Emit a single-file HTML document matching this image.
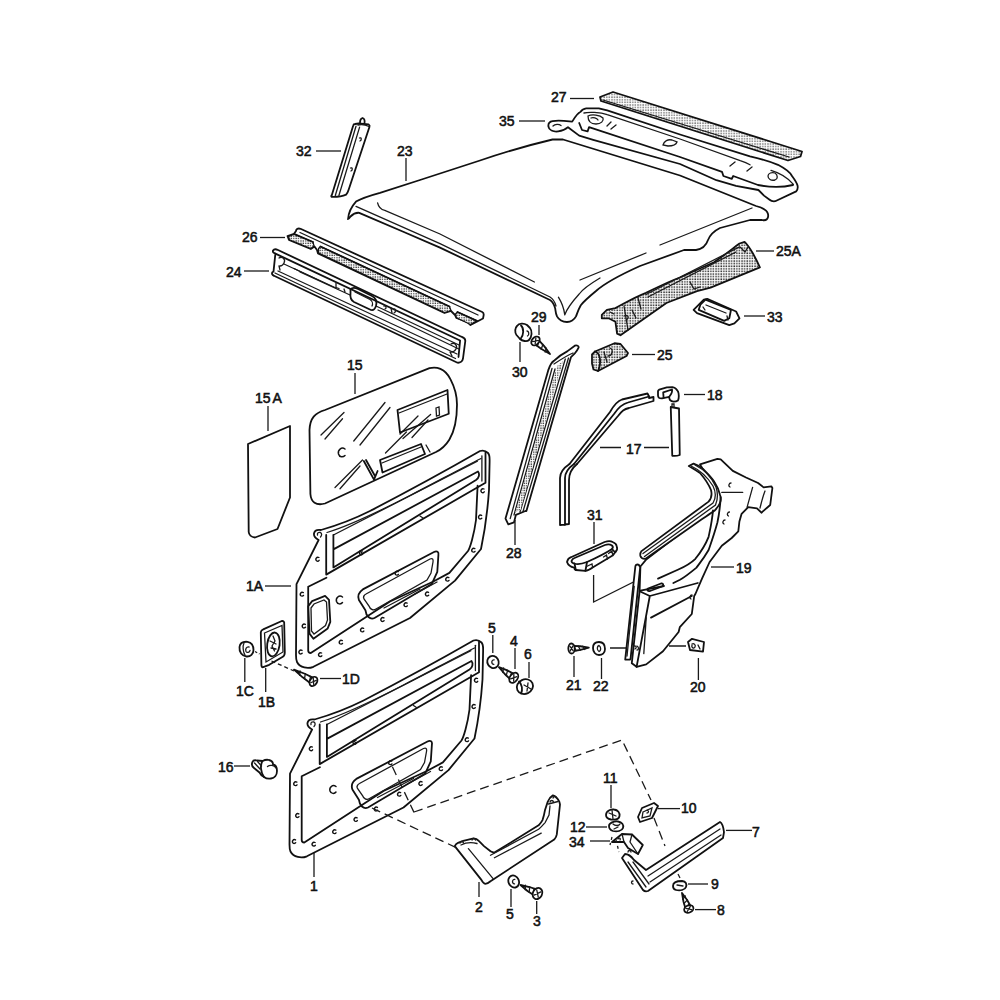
<!DOCTYPE html>
<html><head><meta charset="utf-8">
<style>
html,body{margin:0;padding:0;background:#fff;}
svg{display:block;}
.t{font-family:"Liberation Sans",sans-serif;font-size:14px;fill:#111;stroke:#111;stroke-width:0.55px;}
.o{fill:none;stroke:#111;stroke-width:1.8;stroke-linejoin:round;stroke-linecap:round;}
.w{fill:#fff;stroke:#111;stroke-width:1.8;stroke-linejoin:round;stroke-linecap:round;}
.d{fill:url(#dots);stroke:#111;stroke-width:1.8;stroke-linejoin:round;}
.th{fill:none;stroke:#1a1a1a;stroke-width:1.3;stroke-linecap:round;}
.d2{fill:url(#dots2);stroke:#111;stroke-width:1.2;stroke-linejoin:round;}
.ld{fill:none;stroke:#1a1a1a;stroke-width:1.3;}
</style></head><body>
<svg width="1000" height="1000" viewBox="0 0 1000 1000">
<defs>
<pattern id="dots" width="2.6" height="2.6" patternUnits="userSpaceOnUse">
<rect width="2.6" height="2.6" fill="#fff"/>
<rect x="0.3" y="0.3" width="1.5" height="1.5" fill="#333"/>
</pattern>
<pattern id="dots2" width="2.4" height="2.4" patternUnits="userSpaceOnUse">
<rect width="2.4" height="2.4" fill="#fff"/>
<rect x="0.3" y="0.3" width="1.3" height="1.3" fill="#333"/>
</pattern>
<pattern id="dots3" width="2.6" height="2.6" patternUnits="userSpaceOnUse">
<rect width="2.6" height="2.6" fill="#fff"/>
<rect x="0.3" y="0.3" width="1.3" height="1.3" fill="#555"/>
</pattern>
</defs>
<rect width="1000" height="1000" fill="#fff"/>

<!-- ============ LABELS ============ -->
<g id="labels">
<text class="t" x="551" y="102">27</text><path class="ld" d="M570 98.5H594"/>
<text class="t" x="499" y="126">35</text><path class="ld" d="M519 121H545"/>
<text class="t" x="296" y="156">32</text><path class="ld" d="M316 151H341"/>
<text class="t" x="397" y="156">23</text><path class="ld" d="M406 158V181"/>
<text class="t" x="242" y="242">26</text><path class="ld" d="M260 237.5H285"/>
<text class="t" x="226" y="277">24</text><path class="ld" d="M244 271H269"/>
<text class="t" x="776" y="256">25A</text><path class="ld" d="M756 251H774"/>
<text class="t" x="531" y="322">29</text><path class="ld" d="M539 325V335"/>
<text class="t" x="767" y="322">33</text><path class="ld" d="M744 316H765"/>
<text class="t" x="512" y="377">30</text><path class="ld" d="M520 342V362"/>
<text class="t" x="347" y="370">15</text><path class="ld" d="M355 373V394"/>
<text class="t" x="657" y="360">25</text><path class="ld" d="M632 354.5H655"/>
<text class="t" x="707" y="400">18</text><path class="ld" d="M684 394.5H705"/>
<text class="t" x="626" y="454">17</text><path class="ld" d="M600 447.5H621M644 447.5H669"/>
<text class="t" x="587" y="520">31</text><path class="ld" d="M594 522V544"/>
</g>

<!-- ============ TOP PARTS ============ -->
<g id="top">
<!-- 27 foam strip -->
<path class="d" style="fill:url(#dots3)" d="M600 97 L613 92 L802 151.5 L800.5 156.5 L788 160.5 L601 101 Z"/>
<path class="th" d="M603 100 L789 157"/>

<!-- 35 rear header panel -->
<path class="w" d="M572.2 121.6 C575 117 578 113 580.6 111.8 C582 109.5 584 108.5 586.2 108.3 L598.8 108.3 L607.2 110.4 L680 134.5 L750 156.4 C762 159 771 162 778 164.8 C786 169 790 172 792 176 C795 180 797 183 797.6 185.8 C798 188 797.5 190 796.2 191.4 L775.2 201.2 C773 201.5 771 201 769.6 199.8 L764 195.6 L758.4 190 L736 185.8 L716.4 180.2 L680 164 L593.2 139.8 L579.2 135.6 L568 127.2 C566 129 562 131 558.2 131.4 C553 132 549 130 548.4 126.5 C548 123 550 121.5 552.6 121.1 C556 120.5 560 120.5 563.8 120.9 Z"/>
<path class="th" d="M553 126 C555 124 559 124 561 125.5"/>
<path class="th" d="M584 113 C588 112 600 112 607.2 114.6 L680 139 L740.2 160.6 C745 162 748 163.5 750 164.8"/>
<path class="o" d="M579.2 123 L582 130 L587.6 131.4 L589 127.2 L680 157 L722 171.8 L723.4 176 L731.8 178.8 L733.2 176 L758 185 C768 187 780 188 793 185"/>
<path class="th" d="M588 116 C592 114 600 115 603 118 C604 121 601 124 596 124 C591 124 588 121 588 116 Z M591 118 C593 117 597 118 598 120"/>
<path class="th" d="M663 145 C664 141 668 139 672 140 L677 142 C676 145 672 146 668 146 Z"/>
<path class="th" d="M768 176 C768 173 772 172 775 173 C778 175 778 179 775 180 C771 181 768 179 768 176 Z"/>
<path class="th" d="M771 170.4 C780 173 788 178 793.4 184.4 M607 126 L611 122 M611 129 L616 125 M730 166 L735 162 M747 171 L752 167"/>

<!-- 23 roof -->
<path class="w" d="M348 219.2 C348.5 212 352 206 356 201.6 C362 198 370 195.5 380 192.8 L420 180 L480 160.5 C505 152 525 146 552.5 139.5 L563 139.5 L680 175.5 L756 206 C762 207.5 767 210 768 214 C769 219 766 221 762 220 L750 220 L720 228 C714 231 710 235 708 240 C706 246 703 249 696 250 L684 250 L640 266 C620 275 605 283 596 291 C590 296 584 301 580.8 305.2 C578 310 577 314 576 316.4 C574 320 572 322 567 322 C563 322 559 320 557 316.4 C555.5 313 555.5 310 555.2 308.4 C554 304 553 302 550 300 L440 247.6 L405 232.5 L359.2 212.8 C356 212.5 353 214 350.5 216.5 C349.5 218 348.5 219.5 348 219.2 Z"/>
<path class="th" d="M356 206.4 L440 243.6 L550 297 C553 299 555 302 556 306"/>
<path class="th" d="M377.6 202.8 C378.5 207 381 209.5 384.8 210.4 L440 234 L534.4 282"/>
<path class="th" d="M558.4 297.2 C562 303 564 309 564.8 314.8 M600 278 C590 284 582 290 579.2 294 C572 302 567 308 564.8 314.8"/>
<path class="th" d="M660 245 L752 208"/>
<path class="th" d="M580 280 L646 253"/>

<!-- 32 strip -->
<path class="w" d="M353.3 125.3 C353.5 124.5 354 124 355.1 124 L358.7 123.5 L368.6 124.4 C369.5 125 369.8 126 369.5 126.7 L348.8 189.2 C348 192 347 193.5 346.1 194.6 C342 196.5 336 197 331.7 196.9 C331 196.5 331.2 195.5 331.7 195.5 Z"/>
<path class="th" d="M356 126.2 L335.3 195.5 M359.6 127.1 L338.9 195.5 M358 125 C362 124 366 125 369 126.5"/>
<path class="o" d="M360 122.5 C360 120 361 118.5 362.5 118 C364 118.5 365 120 364.5 123"/>
<path class="th" d="M359.5 138 C361.5 137 362 140 360 141 M350.5 168 C352.5 167 353 170 351 171"/>

<!-- 26 channel with foam -->
<path class="w" d="M296 231 C296 229 298 228 300.5 228.8 L482.2 312 C483.5 312.6 484 314 483.5 316 L483 318.5 L470.5 325 L468 322.5 L456.5 318 L455 315 L451 311 L444.5 313 L318 253.5 L317 250 L314.5 246.5 L310.8 249 L289 240 L287.5 236 L294 233.8 Z"/>
<path class="th" d="M300 232.5 L478 315"/>
<path class="d2" d="M288.5 236.5 L294.5 234.2 L313 242 L314 246 L310.8 248.5 L289.5 239.8 Z"/>
<path class="d2" d="M318.5 248.5 L320.5 246.5 L449.5 306.5 L451 310.5 L444.5 312.5 L318.6 253 Z"/>
<path class="d2" d="M455.5 314 L457.5 312 L477 320.5 L470.5 324.5 L456.5 317.8 Z"/>
<path class="o" d="M320.5 246.5 L449.5 306.5 M457.5 312 L477 321 M294.5 234.2 L313 242"/>

<!-- 24 channel -->
<path class="w" d="M273 250.5 C274 249 276 249 278 250 L461.4 336.7 C463.5 337.5 465.5 339 465.3 341 L463 358.5 C462.5 361.5 460 363 457.5 362.7 L274 275.8 C272 275 271.5 273.5 272.5 272 L273.5 271.6 L275.4 253.6 C273.5 253 272.5 252 273 250.5 Z"/>
<path class="o" d="M275.4 253.6 L460.1 340.5 L458.5 357"/>
<path class="th" d="M284 264 L336 288 M376 306 L459 345 M278 271 L457 354 M275 273 L455.5 358.5"/>
<path class="th" d="M294 268.5 L336 288.5 M300 272 L350 295 M378 310 L458.8 349"/>
<path class="th" d="M279 258 C282 256 286 259 284 263 C283 265 282 266 280 266 M279 266 L280 270"/>
<path class="th" d="M451 344 C454 342 458 345 456 349 C455 351 453 352 451 352 M450 352 L452 356"/>
<path class="o" d="M350.5 289.5 C352 287.5 355 287.5 358 289 L372 296 C376 298 377 302 376 306 C375 309 373 310.5 371 310 L354 302 C351 300.5 350 297 350.5 293 Z"/>
<path class="th" d="M355 292 L370 299.5 C372.5 301 373 304 372 306 M336 283 L336 287.5 L339 288.5 M344 289 L345 292"/>
<path class="th" d="M384 306 C386 305.5 387 308 385 309 M391 308 L392 313 M394 309 C396 309 396 312 394 313"/>

<!-- 29 screw / 30 grommet -->
<path class="w" d="M517 326 C519 323 524 323 527 325 L530 328 C532.5 331 532 337 529 340 C527 342 522 341 520 339 L516.5 335 C514.5 332 515 328 517 326 Z"/>
<path class="o" d="M521 325.5 C524 328 524 335 520.5 339"/>
<path class="th" d="M527 331 C529 331 529.5 335 527.5 336"/>

<!-- 25A foam trim -->
<path class="d" d="M601.8 314.9 L606.9 309.8 L615.4 308.1 C625 303 635 297 646 292.8 C660 286 670 281 680 277.5 C692 272 703 267 714 262.2 C722 257 732 249 739.5 243.5 L744.6 241.8 C748 245 751 250 753.1 253.7 C756 259 758 263 759.9 267.3 L710.6 287.7 L697 291.1 L666.4 303 L620.5 335.3 L617.1 333.6 L615.4 321.7 L608.6 318.3 L601.8 318.3 Z"/>
<path class="th" d="M646 294.5 L739.5 246.9 M648 297 L736 252 M690 282 L694 289 L700 287 M638 298 L641 309 M624 306 L628 330 M610 312 L614 314 M624 316 C628 314 630 318 626 320 M632 310 L636 318 M740 247 L745 252 L748 247"/>
<path class="w" d="M693.6 309.8 L703.8 299.6 L707.2 298.8 L736.1 311.5 L739.5 318.3 L734.4 323.4 L729.3 325.1 L697 313.2 Z"/>
<path class="o" d="M700.4 304.7 L705.5 299.6 L731 309.8 L729.3 318.3 L724.2 320.9 L698.7 309.8 Z"/>
<path class="th" d="M706 305 L726 313 M703 307 L705 310 M727 316 L728 320"/>

<!-- 25 block -->
<path class="d" d="M592 354.5 L595 351.5 L614.5 343.25 L620.5 344 L628 353 L626.5 356 L598 371 L593.5 369.5 L592 363.5 Z"/>
<path class="o" d="M595 351.5 C600 353 602 362 598 371"/>
<path class="th" d="M604 352 L607 362 M610 348 C614 350 612 356 608 356"/>

<!-- 28 A-pillar trim -->
<path class="w" d="M548.2 370.4 C550 365 552 362 553.9 360.9 C558 357 562 354 567.2 351.4 L574.8 345.7 C577 345 579 346 578.6 347.6 C577.5 350 576 352 574.8 353.3 L571 357.1 L526.4 511 L525.4 511 L515.9 514.8 L514 522.4 L508.3 524.3 L505.5 518.6 Z"/>
<path class="th" d="M552 368.5 L510.2 518.6 M555 369 L514 515 M565.3 359 L520 512 M568.5 358 L523 511.5 M554 364 C560 360 566 356 573 353"/>
<path class="d2" style="stroke:none" d="M557 366 L563 361 L520.5 510 L515.5 512 Z"/>

</g>

<!-- 18 / 17 -->
<g id="mid-right">
<path class="w" d="M658 391.2 C658.5 390 659 389.8 659.2 389.6 L666.8 387.4 L672.4 387.2 C674 387.5 675.2 388 676 388.8 C677 389.8 677.8 390.8 678 391.6 C678.8 393 678.8 394.5 678.8 396 C678.8 398 678.5 399.5 678 400.4 C676.5 401.5 675 401.6 673.6 401.6 C672 401.4 670.8 400.8 670 400 C669.4 399 669.2 398 669.2 396.8 L662 398.4 C660.5 398.5 659.5 398.2 658.8 397.6 C658.2 396.8 658 396 658 395.2 Z"/>
<path class="o" d="M663.2 392.4 L663.6 397.6 M663.2 392.4 L672 389.5 C672.5 391.5 671.5 394 669.2 396.8"/>
<path class="w" d="M670.75 407 L679 408.5 L679.75 455 C677 456 674 456 672.25 455.75 Z"/>
<path class="th" d="M672 407 L672 404 L674 404 L674 407"/>
<path class="o" d="M569.5 464 L610 412 C614 405 617 401 622 399.5 L647.5 393.5 L649 396.5"/>
<path class="o" d="M574 464 L614 414 C618 408 622 404 628 402.5 L649 396.5"/>
<path class="o" d="M577 464 L618 416 C622 411 624 409 629 408 L653.5 401 L653.5 397 L649 398"/>
<path class="o" d="M560 525 L560 478 C560 473 562 469 569.5 464 M565 525 L565 478 C565 473 567 469 574 464 M569 524 L569 480 C569 474 571 469 577 464 M560 525 L569 524"/>
</g>

<!-- ============ LOWER LABELS ============ -->
<g id="labels2">
<text class="t" x="255" y="403">15<tspan dx="2">A</tspan></text><path class="ld" d="M268 406V431"/>
<text class="t" x="506" y="558">28</text><path class="ld" d="M515 520V545"/>
<text class="t" x="736" y="573">19</text><path class="ld" d="M711 567H734"/>
<text class="t" x="246" y="591">1A</text><path class="ld" d="M265 586H291"/>
<text class="t" x="488" y="633">5</text><path class="ld" d="M492.8 635V653"/>
<text class="t" x="510" y="646">4</text><path class="ld" d="M515 648V669"/>
<text class="t" x="524" y="659">6</text><path class="ld" d="M529 662V678"/>
<text class="t" x="566" y="690">21</text><path class="ld" d="M574 656V677"/>
<text class="t" x="593" y="691">22</text><path class="ld" d="M601.5 658V679 M610 648H631"/>
<text class="t" x="690" y="692">20</text><path class="ld" d="M698.4 658V680 M669 646H686"/>
<text class="t" x="236" y="696">1C</text><path class="ld" d="M244.8 658V682"/>
<text class="t" x="258" y="707">1B</text><path class="ld" d="M265.7 668V692"/>
<text class="t" x="342" y="684">1D</text><path class="ld" d="M320 678.5H341"/>
<text class="t" x="218" y="772">16</text><path class="ld" d="M234 766H250"/>
<text class="t" x="603" y="783">11</text><path class="ld" d="M611 785V808"/>
<text class="t" x="681" y="813">10</text><path class="ld" d="M658 808.6H680"/>
<text class="t" x="752" y="837">7</text><path class="ld" d="M726 830.4H752"/>
<text class="t" x="570" y="832">12</text><path class="ld" d="M586 827H607"/>
<text class="t" x="569" y="847">34</text><path class="ld" d="M590 841H610"/>
<text class="t" x="310" y="891">1</text><path class="ld" d="M314 851V877"/>
<text class="t" x="475" y="912">2</text><path class="ld" d="M479 882V897"/>
<text class="t" x="506" y="919">5</text><path class="ld" d="M511 889V907"/>
<text class="t" x="533" y="926">3</text><path class="ld" d="M536.7 901V914"/>
<text class="t" x="711" y="889">9</text><path class="ld" d="M688 884H708"/>
<text class="t" x="717" y="915">8</text><path class="ld" d="M695 909.6H716"/>
</g>

<!-- 15A glass -->
<path class="o" d="M248 444 L290 426 L290 497.5 L277.5 529 L255 537.5 C251 537 249 535 248.7 532 Z"/>
<!-- 15 glass -->
<path class="w" d="M325 410 L429.5 368.2 C436 366.5 445 368 450.4 379.2 C455 388 457 396 457 404.5 C457 418 454 432 449.3 439.7 C446 445 442 449 436 452 L325 503.5 C316 506 311 502 310.4 494 L309.5 430 C310 418 315 413 325 410 Z"/>
<path class="th" d="M321 435 L344 412.5 M325 439 L342.5 418.75 M353.75 441 L385 402.5 M360 445 L390 407.5 M335 487.5 L362.5 460 M340 488.75 L360 466 M385.5 453 L406.4 432 M403 438.6 L430.6 414.4 M412 437.5 L428 420 M400 434 L418 416"/>
<path class="o" d="M397.5 410 L447.5 390 L448.75 413.75 L400 432.5 Z"/>
<path class="th" d="M399 413 L447 394 M436 408 L439 407 L439.5 415 L436.5 416 Z"/>
<path class="o" d="M380 460 L421 444 L425 454 L382.5 472.5 Z"/>
<path class="th" d="M382 463 L421 447"/>
<path class="o" d="M363.8 461 L374 479.6 L377.6 471 M366 460 L375 476"/>
<path class="th" d="M426 445 L430 452"/>
<path class="o" style="stroke-width:1.5" d="M345 449 C341.5 446.5 337.5 450 338.5 454 C339.5 457.5 343 457.5 345 455.5"/>

<!-- Door panel 1A -->
<g id="door">
<path class="w" d="M318.6 540 C316 538.5 313.5 536.5 314 533.5 C314.5 530.5 317.5 529.5 321 530 C335 526 350 521 370 511 C395 498 440 474 480 451 C483 450 486 451 488 453 C490 455 489.6 458 489.6 462 L489 490 C488 505 486 525 481 549 L455 580.6 L410 618 L313.4 666.8 C308 669 300 668 297 662 C296 660 296 658 296 655 L296.5 584.2 L318.6 540 Z"/>
<path class="th" d="M317.5 535 C317 533 318.5 532 320.5 532.5 C322 533.5 322 535.5 320.5 537"/>
<path class="th" d="M327 532.5 C350 525.5 380 511 410 495.5 C440 480 460 469 481 458.5"/>
<path class="th" d="M333.4 535 L477.4 461.2"/>
<path class="o" d="M326.2 535 L326.2 574.6 L485.5 482.8 L485.5 452.2"/>
<path class="th" d="M481.9 455.8 L481.9 481"/>
<path class="o" d="M333.4 535 L333.4 567.4 L476 480 C479 478 480 474 478 471.5 L333.4 549.4"/>
<path class="th" d="M360 551 L362 553 M420 516 L423 518"/>
<path class="o" d="M308.2 586.8 L326.4 577.7 M477.6 485.6 L476 520 C474 535 470 548 468 551 L449.4 572.9 L432.9 581.7 L390 601.5 L310.8 653 C308.5 653 308.2 651 308.2 650.5 L308.2 586.8"/>
<path class="o" d="M362.8 589.4 L434 552 C437 550.5 439 552 438.4 555 L437.3 571.8 L431.8 583.9 L374.5 618 C370 620 366 616 365.4 610.2 L358.9 600 C357.5 596 359 592 362.8 589.4 Z"/>
<path class="th" d="M366 594 L430 559 C432.5 558 433.5 559 433 562 L431 573 L427 580 L376 609 C373 611 370 609 369 606 L364 599 C363 597 364 595 366 594 Z"/>
<path class="th" d="M415 594 L437 582 M384 608 L420 589"/>
<path class="o" style="stroke-width:1.5" d="M342.5 597 C339 594.5 335.5 598 336.5 601.5 C337.5 604.5 341 604.5 342.5 602.5"/>
<path style="fill:none;stroke:#111;stroke-width:1.4;stroke-linecap:round" d="M318.9 557.5 C316.7 556.3 314.9 559.1 316.5 560.7 C317.3 561.3 318.5 561.1 319.1 560.3 M303.3 592.6 C301.1 591.4 299.3 594.2 300.9 595.8 C301.7 596.4 302.9 596.2 303.5 595.4 M305.3 624.4 C303.1 623.2 301.3 626.0 302.9 627.6 C303.7 628.2 304.9 628.0 305.5 627.2 M302.0 650.4 C299.8 649.2 298.0 652.0 299.6 653.6 C300.4 654.2 301.6 654.0 302.2 653.2 M321.6 653.0 C319.4 651.8 317.6 654.6 319.2 656.2 C320.0 656.8 321.2 656.6 321.8 655.8 M342.3 640.6 C340.1 639.4 338.3 642.2 339.9 643.8 C340.7 644.4 341.9 644.2 342.5 643.4 M363.6 628.3 C361.4 627.1 359.6 629.9 361.2 631.5 C362.0 632.1 363.2 631.9 363.8 631.1 M383.9 617.9 C381.7 616.7 379.9 619.5 381.5 621.1 C382.3 621.7 383.5 621.5 384.1 620.7 M407.1 603.1 C404.9 601.9 403.1 604.7 404.7 606.3 C405.5 606.9 406.7 606.7 407.3 605.9 M362.5 551.0 C360.3 549.8 358.5 552.6 360.1 554.2 C360.9 554.8 362.1 554.6 362.7 553.8 M398.2 571.6 C396.0 570.4 394.2 573.2 395.8 574.8 C396.6 575.4 397.8 575.2 398.4 574.4 M484.0 489.0 C481.8 487.8 480.0 490.6 481.6 492.2 C482.4 492.8 483.6 492.6 484.2 491.8 M481.6 515.4 C479.4 514.2 477.6 517.0 479.2 518.6 C480.0 519.2 481.2 519.0 481.8 518.2 M474.8 548.6 C472.6 547.4 470.8 550.2 472.4 551.8 C473.2 552.4 474.4 552.2 475.0 551.4 M448.8 577.6 C446.6 576.4 444.8 579.2 446.4 580.8 C447.2 581.4 448.4 581.2 449.0 580.4 M428.5 592.4 C426.3 591.2 424.5 594.0 426.1 595.6 C426.9 596.2 428.1 596.0 428.7 595.2"/>
</g>
<use href="#door" transform="translate(-6.5,189.5)"/>
<path class="o" d="M308.2 606.3 L312.1 601.1 L325.1 595.9 L329 599.8 L330.3 621.9 L327.7 628.4 L313.4 638.8 L309.5 633.6 Z"/>
<path class="th" d="M311 608 L314 604 L324 600 L326.5 602 L327.5 620 L325.5 625.5 L314 634 L311.5 631 Z"/>


<!-- 1C / 1B / 1D -->
<path class="w" d="M239.5 647 C240 642.5 244 641.5 247.5 641.8 C251.5 642.5 253.5 646 253.5 650 C253.5 654 250.5 656.8 246.5 656.5 C242 656 239 652 239.5 647 Z"/>
<path class="th" d="M249 647 C246.5 646.5 245 649 246 651.5 C247 653 249.5 652.5 250 650.5 M244 643 C242.5 646 243 652 245 655"/>
<path class="w" d="M260.8 632.4 C261 630.5 262 629.8 263.2 629.4 L281.8 621 C283.5 620.8 284.5 622 284.2 623.4 L284.8 652.2 C284.8 654.5 284 656.2 282.4 657 L269.2 664.8 L263.2 667.2 C262 667.5 261.5 666.5 261.4 665.4 Z"/>
<path class="th" d="M264.5 633 L282 625.5 L283 652 L266 662 Z"/>
<ellipse class="o" cx="273.4" cy="644.4" rx="6.2" ry="12" transform="rotate(8 273.4 644.4)"/>
<path class="th" d="M273 636 L275 641 L272 646 L274.5 651 M270 641 L276 644 M271 648 L276 649"/>
<path class="ld" d="M255 651.5 L259.5 654" stroke-dasharray="2.5 2"/>
<path class="ld" d="M271.5 661 L294 671" stroke-dasharray="4 3"/>

<!-- 16 clip -->
<path class="w" d="M252.5 762 C253 760.5 255 760 257 760.5 L262.5 761 C264.5 760 267 759.5 269 760 C271.5 760.5 273 762.5 273 764.5 C275.5 765 277 767.5 277 771 C277 775 274.5 778 271 778.5 C268.5 779 266 778.5 264 777 C262 776 260.5 774.5 259.5 772.5 L254 768 C252 766.5 251.5 764 252.5 762 Z"/>
<path class="o" d="M262.5 761 C260 765 260.5 772 264 777"/>
<path class="th" d="M267.5 766.5 C270 764.5 274 765 276 768 M254.5 763 L260 769 M257.5 761.5 L261.5 766"/>

<!-- 5, 4, 6 -->
<ellipse class="w" cx="524.9" cy="686.6" rx="8.3" ry="7.2" transform="rotate(-25 524.9 686.6)"/>
<path class="o" d="M519 681.5 C522 684 523 690 521 693.5"/>
<path class="th" d="M524 685 L531 689 M528 683 L527 691"/>

<!-- 21, 22 -->
<path class="w" d="M593 648 C593 643 596 642 599 642 C603 642 605 645 605 649 C605 653 602 655 599 655 C595.5 655 593 652 593 648 Z"/>
<path class="th" d="M599 645.5 C597 646 596.5 650 599 651.5 C601 651 601.5 647 599 645.5 Z"/>

<!-- 20 clip -->
<path class="w" d="M688 642 L692 638.8 L704 642 L703 651.6 L690 650 Z"/>
<path class="th" d="M692 644 C694 643 696 645 695 647 C694 649 691 648 692 645 M698 645 L700 649"/>

<!-- 31 handle -->
<path class="w" d="M567 562 C567.5 559.5 569 558 571 557.2 L604.6 542 C607.5 541 611 541 612.6 542 C615 543 616.5 544.5 616.6 546 C617.5 548 617.2 550 615.8 551.5 L612.6 555.6 L592.6 567.6 C590 569.5 587.5 570.8 585.4 570.8 L575.8 570 C574.5 569.5 574.2 568.5 574.2 567.6 C571 567 568 565 567 562 Z"/>
<path class="o" d="M571.5 561 C572 559.5 573 558.5 574.5 558 L605 545 C607.5 544.2 610.5 544.5 612 545.5 C613 546.5 613 548 612 549 C606 553 596 558 587 562 C582 564 577 564.5 574 563.5 C572.5 563 571.5 562 571.5 561 Z"/>
<path class="o" d="M574.5 563.5 C575 566 575.5 568 575.8 570 M587 562 C586.5 565 586 568 585.4 570.8 M612 549 C614 551 615 553 615.8 551.5"/>
<path class="th" d="M586.5 566.5 L592 564 L592.6 567.6 M603.5 557 L606.5 555 L607.5 559 M608.5 553.5 L612 551 L612.6 555"/>
<path class="ld" d="M593.6 575V602 L651 573.2 L652.2 584"/>

<!-- 19 rear quarter trim -->
<g id="p19">
<path class="w" d="M700 464.4 L717.4 458.8 L720.7 459.4 L732.8 470.9 L746 477.5 L758.1 483 L763.6 487.4 L771.3 486.3 L772.4 488 L770.2 505 L761.4 512.7 L757 508.3 L748.2 507.2 L741.6 513.8 L739.4 521.5 L738.3 531.4 L731.7 538 L721.8 545.7 L709.6 562 L702 578.6 L695.4 594 L694.2 596 L691.8 614 L679.8 627.2 L678.6 632 L663 651.2 L646.2 664.4 L636.6 666.8 L631.8 663.2 L639.6 591.2 L640.4 566.5 L645.9 559.9 L717.4 504.9 C719 500 719 497 718 494 Z"/>
<path class="w" d="M688.8 466 L693.6 463.6 C698 465 701 467 703.2 469.2 C708 474 712 478 714.4 482 C717 486 719 490 720 494.8 C721 498 721 501 720 502.8 C719 506 717 508 714.4 510.8 C710 514 705 517 700 520.4 L645.6 558.8 C643 559 641 558 640.4 556 C640 554 640.5 552.5 641.5 551.1 L708.6 501.6 C712 498 712 494 711 490 C709 485 706 480 700 473 C696 470 692 468 688.8 466 Z"/>
<path class="th" d="M691 466 C700 470 708 478 713 486 C716 492 716 498 713 503 L643 553.5 M695 465 C705 470 712 478 716 487 C718 493 718 499 715.5 505 L644.5 556.5"/>
<path class="o" d="M713 510.4 C712 522 710 530 708.6 536.8 C705 546 700 553 695.4 558.8 C690 564 684 567 677.8 569.8 L658 578.6"/>
<path class="o" d="M720.7 497.2 C720 508 719 515 717.4 522.5 C714 535 711 543 708.6 550 C704 558 700 563 696.5 567.6 C690 573 685 577 680 579.7 L673.4 583 M664 586 L640.4 590.7"/>
<path class="th" d="M721.8 492.4 L742.7 492.4 M752.6 487.4 L747.1 507.2 M765 491 C763 496 761.5 502 760 508"/>
<path class="w" d="M635.4 566 C636 564 639 564 639.5 566 L640.2 567.2 L630.6 658.4 L630 659.6 L625.2 659.6 Z"/>
<path class="th" d="M634.2 586.4 L627 656"/>
<path class="o" d="M639.6 591.2 L649.8 596 L636.6 666.8 M649.8 596 L697.8 583 M651 617.6 L691.8 596"/>
<path class="o" d="M648 588.5 L661 583.5 C663.5 583 664 585.5 662 586.5 L650 591 C647.5 591.5 646.5 589.5 648 588.5 Z"/>
<path class="th" d="M646.2 617.6 L643.8 653.6 M634 646 C636.5 645.5 637 648 635 649"/>
<g class="th"><path d="M731 483 C729 483 728 486 730 487 M729.5 512 C727.5 512 726.5 515 728.5 516 M725 520 C723 520 722 523 724 524 M692 595 C690 595 689 598 691 599 M637 646 C639 647 639 650 637 650"/></g>
</g>

<!-- 2 bracket -->
<path class="w" d="M454.75 846.1 C455.5 844.5 456.5 843.5 458 842.9 L463.2 840.9 L473.6 838.3 C476 838.5 477.5 839.5 478.8 840.9 L484 846.1 L490.5 851.3 C492 852.3 493 852.6 494.4 852.6 L538.6 825.3 C540.5 823.5 541.5 822 542.5 820.1 C543.8 816.5 544.5 813 545.1 809.7 L547.7 801.9 C549 798.5 551 796.5 552.9 795.4 C555.5 796 558 799 559.4 801.9 L560 804.5 L556.8 834.4 C556.5 836.5 555.5 838.2 554.2 839.6 L490.5 881.2 C489 882.5 487 883.8 485.3 883.8 C483.5 883.5 482.2 881.5 481.4 879.9 Z"/>
<path class="th" d="M468.4 848.7 L493.1 878.6 M461 845 C465 843 471 842 477 843.5 M490.5 855.2 L538.6 829.2 C542 826.5 544.5 823 545 822.7 L549 815 L550 806 M494.4 857.8 L541.2 833.1 M548.5 804 L558 801.5"/>
<path class="th" d="M460 843 C460.5 841 463 841 463.5 843 M472 840 C472.5 838 475 838 475.5 840 M550 802 C550.5 800 553 800 553.5 802 M553 798 C553.5 796 556 796 556.5 798"/>

<!-- 5 bottom, 3 -->

<!-- 11, 12, 34, 10 -->
<path class="w" d="M606 815 C606 811 611 809 614 809.5 C618 810 620 813 619.5 816 C619 819 615 820 611 819.5 C608 819 606 818 606 815 Z"/>
<path class="th" d="M609 813 L616 816 M612 810 L613 819"/>
<path class="w" d="M609 826 C609 823 614 821 618 821.5 C622 822 624 825 623 828 C622 831 617 832 613 831 C610 830 609 828 609 826 Z"/>
<path class="th" d="M613 824 C615 826 619 826 620 824 M614 829 L618 827"/>
<path class="w" d="M612 842 L622 834 L632 834.5 L642.8 845 L638 854 L628 848 L624 842 Z"/>
<path class="th" d="M622 834 L624 842 M632 834.5 L630 842 L638 854 M618 839 C619 837.5 621 838 620 840"/>
<path class="w" d="M638 817 L642 808 L654 803 L658 806 L652 818 L640 822 Z"/>
<path class="th" d="M643 812 L652 808 L650 816 L642 818 Z M647 810 C649 810 649 813 647 813"/>

<!-- 7 bracket -->
<path class="w" d="M622 858 L625 854 C628 854 631 856 634 860 L646 870 L720 822 C722 823 723.5 828 724 832 L723 838 L648 891 C645 892 644 891 643 890 Z"/>
<path class="th" d="M628 862 L646 887 M633 862 L649 884 M648 876 L720 829 M650 882 L721 835"/>
<path class="th" d="M628 852 C628 850 631 850 631 852 M633 884 C631 884 631 881 633 881"/>
<!-- 9, 8 -->
<path class="w" d="M673 886 C673 882 678 881 682 881 C686 881.5 687 884 686 887 C685 890 680 891 676 890 C674 889.5 673 888 673 886 Z"/>
<path class="th" d="M677 885 L683 886"/>

<!-- screws generated -->
<g transform="translate(498.9,667.1) rotate(35.7)">
<path class="w" d="M0 0 L8.8 -2.2 L16.1 -3.2 L16.1 3.2 L8.8 2.2 Z"/>
<path class="th" d="M4.3 -2.1 L6.3 2.1 M8.9 -2.6 L10.9 2.6 M13.5 -3.0 L15.5 3.0"/>
<ellipse class="w" cx="18.3" cy="0" rx="3.8" ry="5.6"/>
<path class="th" d="M16.4 -2.8 L20.2 2.8 M16.4 2.8 L20.2 -2.8"/>
</g>
<g transform="translate(294.0,669.6) rotate(31.4)">
<path class="w" d="M0 0 L11.4 -2.1 L20.7 -3.0 L20.7 3.0 L11.4 2.1 Z"/>
<path class="th" d="M5.9 -2.0 L7.9 2.0 M11.8 -2.4 L13.8 2.4 M17.7 -2.9 L19.7 2.9"/>
<ellipse class="w" cx="22.8" cy="0" rx="3.5" ry="5.0"/>
<path class="th" d="M21.1 -2.5 L24.6 2.5 M21.1 2.5 L24.6 -2.5"/>
</g>
<g transform="translate(588.8,647.6) rotate(177.0)">
<path class="w" d="M0 0 L8.5 -1.8 L15.4 -2.6 L15.4 2.6 L8.5 1.8 Z"/>
<path class="th" d="M4.1 -1.7 L6.1 1.7 M8.5 -2.1 L10.5 2.1 M12.9 -2.5 L14.9 2.5"/>
<ellipse class="w" cx="17.3" cy="0" rx="3.2" ry="5.0"/>
<path class="th" d="M15.7 -2.5 L18.9 2.5 M15.7 2.5 L18.9 -2.5"/>
</g>
<g transform="translate(520.5,885.0) rotate(26.6)">
<path class="w" d="M0 0 L8.9 -2.2 L16.2 -3.2 L16.2 3.2 L8.9 2.2 Z"/>
<path class="th" d="M4.4 -2.1 L6.4 2.1 M9.0 -2.6 L11.0 2.6 M13.7 -3.0 L15.7 3.0"/>
<ellipse class="w" cx="19.0" cy="0" rx="4.6" ry="5.8"/>
<path class="th" d="M16.7 -2.9 L21.3 2.9 M16.7 2.9 L21.3 -2.9"/>
</g>
<g transform="translate(682.0,893.0) rotate(67.0)">
<path class="w" d="M0 0 L8.4 -2.0 L15.3 -2.8 L15.3 2.8 L8.4 2.0 Z"/>
<path class="th" d="M4.1 -1.9 L6.1 1.9 M8.4 -2.3 L10.4 2.3 M12.8 -2.7 L14.8 2.7"/>
<ellipse class="w" cx="17.4" cy="0" rx="3.5" ry="4.8"/>
<path class="th" d="M15.6 -2.4 L19.1 2.4 M15.6 2.4 L19.1 -2.4"/>
</g>
<g transform="translate(550.0,354.0) rotate(-138.1)">
<path class="w" d="M0 0 L9.6 -2.0 L17.4 -2.8 L17.4 2.8 L9.6 2.0 Z"/>
<path class="th" d="M4.8 -1.9 L6.8 1.9 M9.7 -2.3 L11.7 2.3 M14.7 -2.7 L16.7 2.7"/>
<ellipse class="w" cx="19.5" cy="0" rx="3.5" ry="5.0"/>
<path class="th" d="M17.7 -2.5 L21.2 2.5 M17.7 2.5 L21.2 -2.5"/>
</g>
<ellipse class="w" cx="493" cy="662" rx="5.6" ry="6.2" transform="rotate(-30 493 662)"/>
<path class="th" d="M494.2 659.8 C491.2 659.5 491.0 664.2 493.8 664.4"/>
<ellipse class="w" cx="513.7" cy="881.5" rx="5.2" ry="6.2" transform="rotate(-25 513.7 881.5)"/>
<path class="th" d="M514.9 879.3 C511.9 879.0 511.7 883.7 514.5 883.9"/>

<!-- dashed leader lines -->
<path class="ld" d="M414 812 L622 740 L651 800 M654 818 L665 846" stroke-dasharray="9 5"/>
<path class="ld" d="M392.4 766.8 L414 812.4" stroke-dasharray="9 5"/>
<path class="ld" d="M372 808 L457 848" stroke-dasharray="9 5"/>
<path class="ld" d="M612 837 L610 845 M616 840 L619 852" stroke-dasharray="3 3"/>
<path class="ld" d="M680 878 L678 874" />

</svg>
</body></html>
